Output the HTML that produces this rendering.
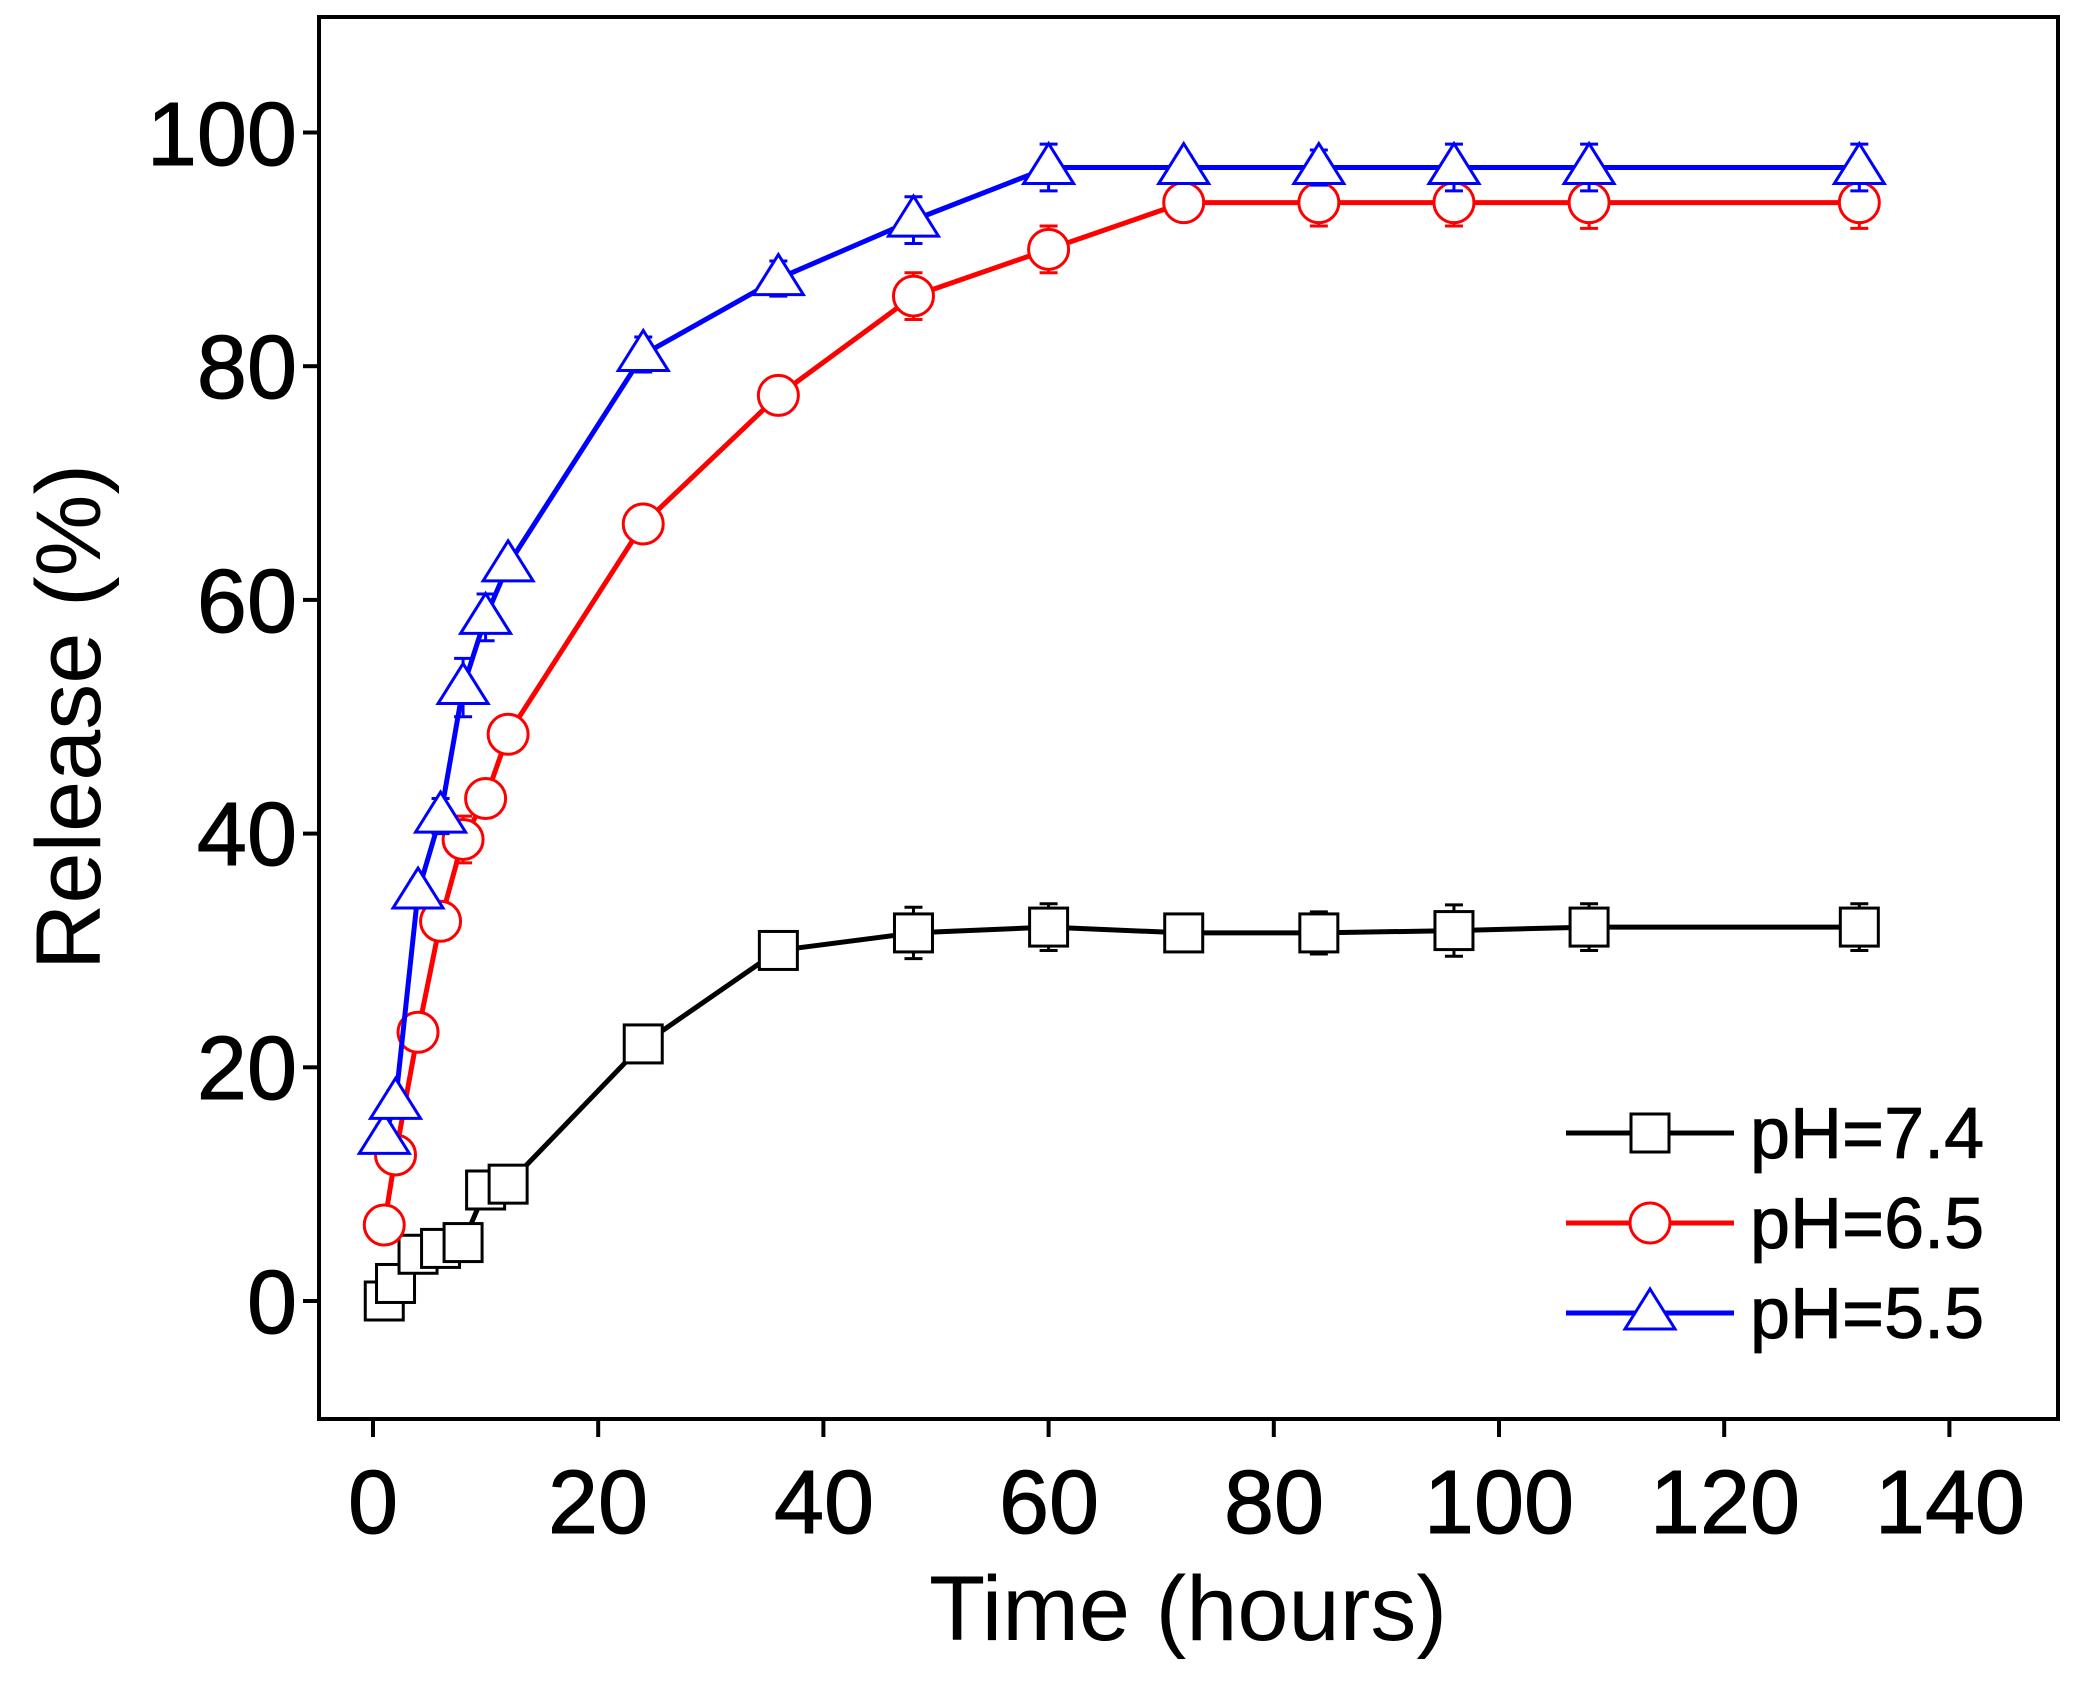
<!DOCTYPE html>
<html><head><meta charset="utf-8"><style>html,body{margin:0;padding:0;background:#fff}svg{display:block}</style></head>
<body>
<svg id="s" width="2082" height="1690" viewBox="0 0 2082 1690" xmlns="http://www.w3.org/2000/svg" font-family="Liberation Sans, Arial, sans-serif">
<rect x="0" y="0" width="2082" height="1690" fill="#fff"/>
<rect x="319" y="17" width="1739" height="1402" fill="none" stroke="#000" stroke-width="4"/>
<g id="ticks" stroke="#000" stroke-width="4"></g>
<g font-size="90" fill="#000" stroke="#000" stroke-width="1" text-anchor="end">
<text x="297" y="165">100</text>
<text x="297" y="398">80</text>
<text x="297" y="632">60</text>
<text x="297" y="865">40</text>
<text x="297" y="1099">20</text>
<text x="297" y="1333">0</text>
</g>
<g font-size="90" fill="#000" stroke="#000" stroke-width="1" text-anchor="middle">
<text x="373" y="1533">0</text>
<text x="598" y="1533">20</text>
<text x="824" y="1533">40</text>
<text x="1049" y="1533">60</text>
<text x="1274" y="1533">80</text>
<text x="1499" y="1533">100</text>
<text x="1725" y="1533">120</text>
<text x="1950" y="1533">140</text>
</g>
<text x="1188" y="1640" font-size="92" text-anchor="middle">Time (hours)</text>
<text transform="translate(100,717) rotate(-90)" font-size="92" text-anchor="middle">Release (%)</text>
<g id="data"></g>
<g font-size="72" fill="#000" stroke="#000" stroke-width="0.8">
<text x="1750" y="1158">pH=7.4</text>
<text x="1750" y="1248">pH=6.5</text>
<text x="1750" y="1338">pH=5.5</text>
</g>
</svg>
<script>
var NS="http://www.w3.org/2000/svg";
function el(p,t,a){var e=document.createElementNS(NS,t);for(var k in a)e.setAttribute(k,a[k]);p.appendChild(e);return e;}
var X=function(x){return 373+11.26*x}, Y=function(y){return 1301-11.685*y};
var tk=document.getElementById('ticks');
for(var v=0;v<=100;v+=20){el(tk,'line',{x1:303,y1:Y(v),x2:319,y2:Y(v)});}
for(var v=0;v<=140;v+=20){el(tk,'line',{x1:X(v),y1:1419,x2:X(v),y2:1437});}
var ts=[1,2,4,6,8,10,12,24,36,48,60,72,84,96,108,132];
var S=[
 {c:'#000',m:'sq',d:[0,1.5,4,4.5,5,9.5,10,22,30,31.5,32,31.5,31.5,31.7,32,32],e:[1,1,1,1,1,1,1,1,1,2.2,2,1.2,1.8,2.2,2,2]},
 {c:'#f00',m:'ci',d:[6.5,12.5,23,32.5,39.5,43,48.5,66.5,77.5,86,90,94,94,94,94,94],e:[1,1,1,1,2,1.5,1,1,1.5,2,2,1,2,2,2.2,2.2]},
 {c:'#00f',m:'tr',d:[14,17,35,41.5,52.5,58.5,63,81,87.5,92.5,97,97,97,97,97,97],e:[1,1,1,1.5,2.5,2,1,1.5,1.5,2,2,1,1.5,2,2,2]}
];
var g=document.getElementById('data');
function marker(p,m,x,y,c){
 if(m=='sq') el(p,'rect',{x:x-19,y:y-19,width:38,height:38,fill:'#fff',stroke:c,'stroke-width':3});
 else if(m=='ci') el(p,'circle',{cx:x,cy:y,r:20,fill:'#fff',stroke:c,'stroke-width':3});
 else el(p,'polygon',{points:(x)+','+(y-24)+' '+(x-25)+','+(y+16)+' '+(x+25)+','+(y+16),fill:'#fff',stroke:c,'stroke-width':3});
}
S.forEach(function(s){
 var pts=ts.map(function(t,i){return X(t)+','+Y(s.d[i])}).join(' ');
 el(g,'polyline',{points:pts,fill:'none',stroke:s.c,'stroke-width':5,'stroke-linejoin':'round'});
 ts.forEach(function(t,i){
  var x=X(t),y=Y(s.d[i]),e=s.e[i]*11.685;
  el(g,'line',{x1:x,y1:y-e,x2:x,y2:y+e,stroke:s.c,'stroke-width':3});
  el(g,'line',{x1:x-9,y1:y-e,x2:x+9,y2:y-e,stroke:s.c,'stroke-width':3});
  el(g,'line',{x1:x-9,y1:y+e,x2:x+9,y2:y+e,stroke:s.c,'stroke-width':3});
 });
 ts.forEach(function(t,i){marker(g,s.m,X(t),Y(s.d[i]),s.c);});
});
var ly=[1133,1223,1313];
S.forEach(function(s,i){
 el(g,'line',{x1:1566,y1:ly[i],x2:1734,y2:ly[i],stroke:s.c,'stroke-width':5});
 marker(g,s.m,1650,ly[i],s.c);
});
</script>
</body></html>
